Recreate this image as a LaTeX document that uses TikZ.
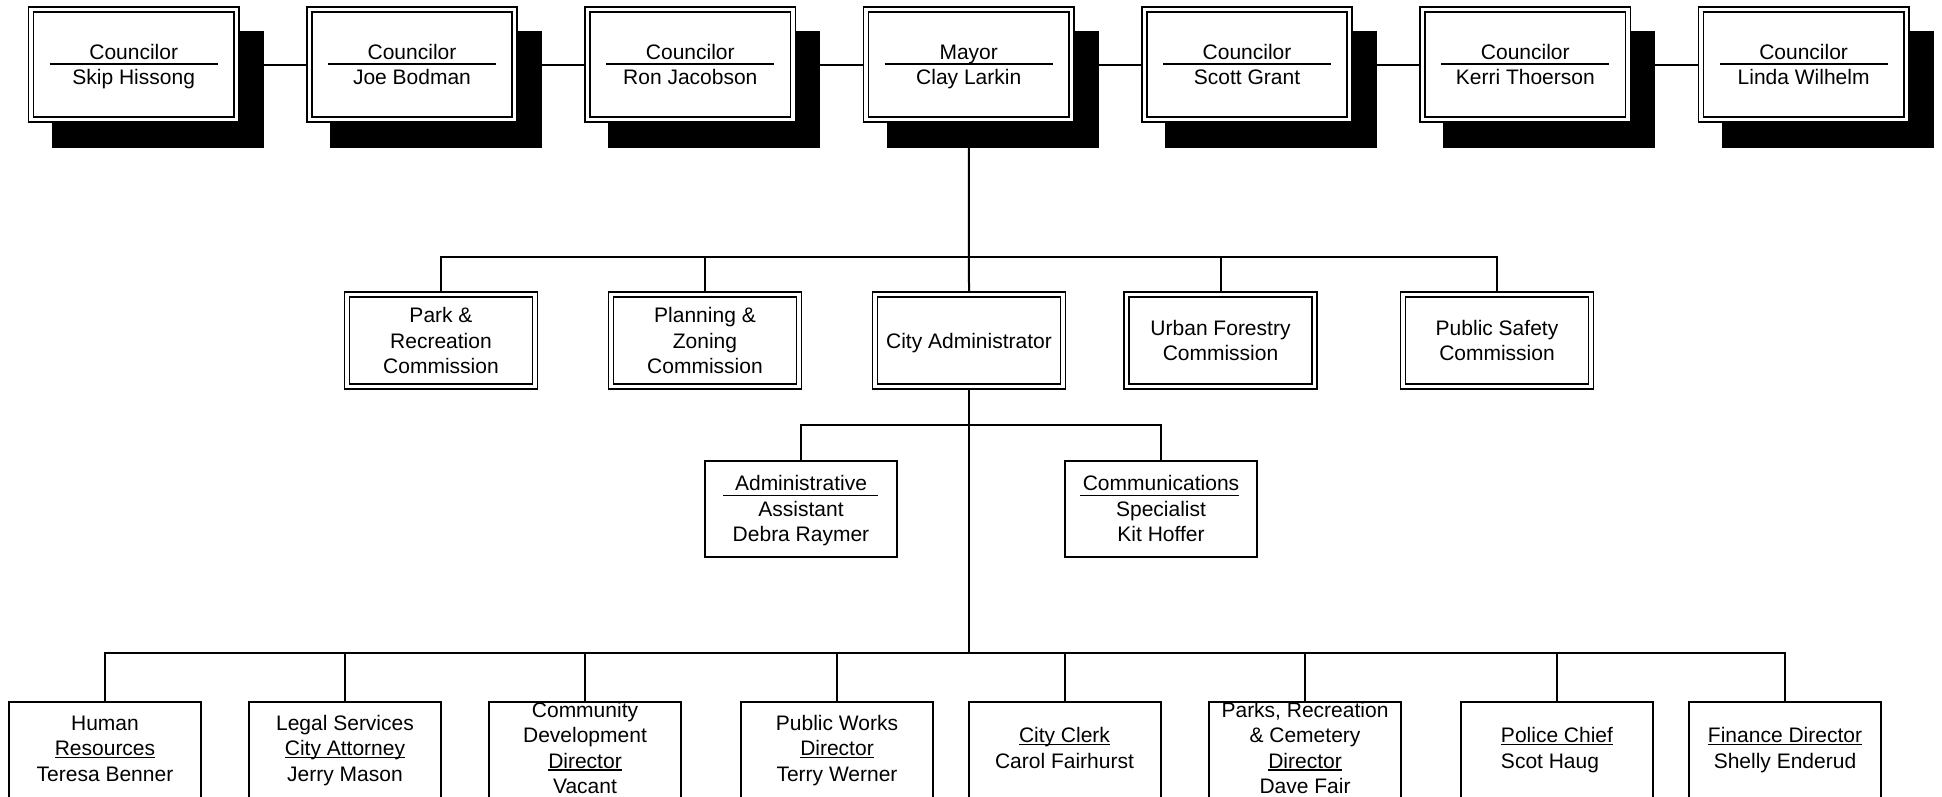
\documentclass[tikz,border=0pt]{standalone}
\usepackage{fontspec}
\setmainfont{Liberation Sans}
\usetikzlibrary{backgrounds,calc}
\newcommand\mys{\rule[-5.25pt]{0pt}{25.5pt}}
\newcommand\undl[1]{\setbox0\hbox{#1}\rlap{\rule[-2.4pt]{\wd0}{1.4pt}}\box0}
\begin{document}
\begin{tikzpicture}[x=1pt,y=-1pt,
  every node/.style={font=\fontsize{21}{25.5}\selectfont, inner sep=0pt, align=center},
  innerframe/.style={path picture={\draw[line width=1.6pt]
      ([shift={(5pt,-5pt)}]path picture bounding box.north west) rectangle
      ([shift={(-5pt,5pt)}]path picture bounding box.south east);}},
  topbox/.style={draw, line width=1.6pt, fill=white, minimum width=210.5pt, minimum height=115pt,
      preaction={draw=black, fill=black, line width=1.6pt, transform canvas={shift={(24pt,-25pt)}}},
      innerframe},
  combox/.style={draw, line width=1.6pt, fill=white, minimum width=193pt, minimum height=97pt, innerframe},
  midbox/.style={draw, line width=2pt, fill=white, minimum width=192pt, minimum height=96pt},
  botbox/.style={draw, line width=2pt, fill=white, minimum width=192pt, minimum height=150pt, anchor=north},
  conn/.style={line width=2pt},
  sep/.style={line width=1.5pt}
]
\useasboundingbox (0,0) rectangle (1942,796);
\clip (0,0) rectangle (1942,796);

% top row
\node[topbox] (c1) at (133.7,64.5) {\mys Councilor\\\mys Skip Hissong};
\node[topbox] (c2) at (412,64.5) {\mys Councilor\\\mys Joe Bodman};
\node[topbox] (c3) at (690.3,64.5) {\mys Councilor\\\mys Ron Jacobson};
\node[topbox] (mayor) at (968.7,64.5) {\mys Mayor\\\mys Clay Larkin};
\node[topbox] (c5) at (1247,64.5) {\mys Councilor\\\mys Scott Grant};
\node[topbox] (c6) at (1525.3,64.5) {\mys Councilor\\\mys Kerri Thoerson};
\node[topbox] (c7) at (1803.6,64.5) {\mys Councilor\\\mys Linda Wilhelm};
\foreach \n in {c1,c2,c3,mayor,c5,c6,c7}
  \draw[sep] ($(\n.center)+(-84,-0.5)$) -- ($(\n.center)+(84,-0.5)$);

% commissions
\node[combox] (park) at (441,340.7) {\mys Park \&\\\mys Recreation\\\mys Commission};
\node[combox] (plan) at (705,340.7) {\mys Planning \&\\\mys Zoning\\\mys Commission};
\node[combox] (cadm) at (969,340.7) {\mys City Administrator};
\node[combox] (urban) at (1220.5,340.7) {\mys Urban Forestry\\\mys Commission};
\node[combox] (safety) at (1497,340.7) {\mys Public Safety\\\mys Commission};

% staff
\node[midbox] (aa) at (801,508.8) {\mys Administrative\\\mys Assistant\\\mys Debra Raymer};
\node[midbox] (cs) at (1161,508.8) {\mys Communications\\\mys Specialist\\\mys Kit Hoffer};
\draw[sep] ($(aa.center)+(-78,-13.2)$) -- ($(aa.center)+(77,-13.2)$);
\draw[sep] ($(cs.center)+(-81,-13.2)$) -- ($(cs.center)+(78,-13.2)$);

% departments
\node[botbox] (hr) at (105,701) {};
\node[botbox] (legal) at (345,701) {};
\node[botbox] (cd) at (585,701) {};
\node[botbox] (pw) at (837,701) {};
\node[botbox] (cc) at (1064.5,701) {};
\node[botbox] (prc) at (1305,701) {};
\node[botbox] (pol) at (1557,701) {};
\node[botbox] (fin) at (1785,701) {};

\node (hrt) at (105,748) {\mys Human\\\mys \undl{Resources}\\\mys Teresa Benner};
\node (legalt) at (345,748) {\mys Legal Services\\\mys \undl{City Attorney}\\\mys Jerry Mason};
\node (cdt) at (585,748) {\mys Community\\\mys Development\\\mys \undl{Director}\\\mys Vacant};
\node (pwt) at (837,748) {\mys Public Works\\\mys \undl{Director}\\\mys Terry Werner};
\node (cct) at (1064.5,748) {\mys \undl{City Clerk}\\\mys Carol Fairhurst};
\node (prct) at (1305,748) {\mys Parks, Recreation\\\mys \& Cemetery\\\mys \undl{Director}\\\mys Dave Fair};
\node[align=left] (polt) at (1557,748) {\mys \undl{Police Chief}\\\mys Scot Haug};
\node (fint) at (1785,748) {\mys \undl{Finance Director}\\\mys Shelly Enderud};

% connectors
\coordinate (b1) at (969,257);
\coordinate (b2) at (969,425);
\coordinate (b3) at (969,652.5);
\begin{scope}[on background layer]
  \draw[conn] (c1.east) -- (c2.west);
  \draw[conn] (c2.east) -- (c3.west);
  \draw[conn] (c3.east) -- (mayor.west);
  \draw[conn] (mayor.east) -- (c5.west);
  \draw[conn] (c5.east) -- (c6.west);
  \draw[conn] (c6.east) -- (c7.west);
  \draw[conn] (mayor.south) -- (cadm.north);
  \draw[conn] (park.north) |- (b1) -| (safety.north);
  \draw[conn] (plan.north) -- (plan.north |- b1);
  \draw[conn] (urban.north) -- (urban.north |- b1);
  \draw[conn] (cadm.south) -- (b3);
  \draw[conn] (aa.north) |- (b2) -| (cs.north);
  \draw[conn] (hr.north) |- (b3) -| (fin.north);
  \foreach \n in {legal,cd,pw,cc,prc,pol}
    \draw[conn] (\n.north) -- (\n.north |- b3);
\end{scope}
\end{tikzpicture}
\end{document}
